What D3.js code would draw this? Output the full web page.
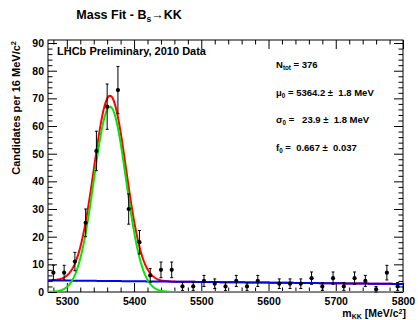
<!DOCTYPE html>
<html>
<head>
<meta charset="utf-8">
<script src="https://cdn.jsdelivr.net/npm/d3@7"></script>
<style>
body { margin: 0; background: #fff; }
text { font-family: "Liberation Sans", Arial, Helvetica, sans-serif; font-weight: bold; }
</style>
</head>
<body>
<script>
// histogram: 16 MeV bins from 5272 to 5800
var massBins = [5280, 5296, 5312, 5328, 5344, 5360, 5376, 5392, 5408, 5424, 5440,
                5456, 5472, 5488, 5504, 5520, 5536, 5552, 5568, 5584, 5600, 5616,
                5632, 5648, 5664, 5680, 5696, 5712, 5728, 5744, 5760, 5776, 5792];
var counts = [7, 7, 11, 25, 51, 67, 73, 30, 18, 6, 8,
              8, 2, 2, 4, 3, 2, 4, 2, 4, 0, 3,
              3, 3, 5, 2, 5, 2, 5, 4, 1, 7, 2];
var xTickVals = [5300, 5400, 5500, 5600, 5700, 5800];
var yTickVals = [0, 10, 20, 30, 40, 50, 60, 70, 80, 90];

// fit result (from the stat box)
var nTot = 376, mu0 = 5364.2, sigma0 = 23.9, f0 = 0.667;
var binW = 16;
// background line at both ends of the range
var bkgMass = [5272, 5800];
var bkgLevel = [4.2, 2.9];

var W = 418, H = 320;
var svg = d3.select("body").append("svg")
	.attr("width", W)
	.attr("height", H);

svg.append("rect").attr("width", W).attr("height", H).attr("fill", "#fff");

var x = d3.scaleLinear().domain([5272, 5800]).range([48, 403]);
var y = d3.scaleLinear().domain([0, 91.1]).range([292, 40]);
var bkg = d3.scaleLinear().domain(bkgMass).range(bkgLevel);

function sig(m) {
	var z = (m - mu0) / sigma0;
	return nTot * f0 * binW / (sigma0 * Math.sqrt(2 * Math.PI)) * Math.exp(-0.5 * z * z);
}

// axes, ticks pointing inwards on all four sides
var xMinor = d3.range(5280, 5801, 20).filter(function(d) { return d % 100 != 0; });
var yMinor = d3.range(2, 91, 2).filter(function(d) { return d % 10 != 0; });

function styleAxis(g) {
	g.select(".domain").remove();
	g.selectAll("line").attr("stroke", "#000");
	g.selectAll("text").attr("fill", "#000").attr("font-size", 10.5)
		.attr("font-family", null);
}

svg.append("g").attr("transform", "translate(0,292)")
	.call(d3.axisBottom(x).tickValues(xTickVals).tickSize(-9).tickPadding(5.5).tickFormat(d3.format("d")))
	.call(styleAxis);
svg.append("g").attr("transform", "translate(0,292)")
	.call(d3.axisBottom(x).tickValues(xMinor).tickSize(-4.5).tickFormat(""))
	.call(styleAxis);
svg.append("g").attr("transform", "translate(0,40)")
	.call(d3.axisTop(x).tickValues(xTickVals).tickSize(-9).tickFormat(""))
	.call(styleAxis);
svg.append("g").attr("transform", "translate(0,40)")
	.call(d3.axisTop(x).tickValues(xMinor).tickSize(-4.5).tickFormat(""))
	.call(styleAxis);

svg.append("g").attr("transform", "translate(48,0)")
	.call(d3.axisLeft(y).tickValues(yTickVals).tickSize(-9).tickPadding(4))
	.call(styleAxis);
svg.append("g").attr("transform", "translate(48,0)")
	.call(d3.axisLeft(y).tickValues(yMinor).tickSize(-4.5).tickFormat(""))
	.call(styleAxis);
svg.append("g").attr("transform", "translate(403,0)")
	.call(d3.axisRight(y).tickValues(yTickVals).tickSize(-9).tickFormat(""))
	.call(styleAxis);
svg.append("g").attr("transform", "translate(403,0)")
	.call(d3.axisRight(y).tickValues(yMinor).tickSize(-4.5).tickFormat(""))
	.call(styleAxis);

svg.append("rect")
	.attr("x", 48).attr("y", 40)
	.attr("width", 355).attr("height", 252)
	.attr("fill", "none").attr("stroke", "#000").attr("stroke-width", 1);

// fit curves
svg.append("clipPath").attr("id", "frame")
	.append("rect").attr("x", 48).attr("y", 40).attr("width", 355).attr("height", 252);

var grid = d3.range(5272, 5800.5, 1);
var line = d3.line().x(function(d) { return x(d[0]); }).y(function(d) { return y(d[1]); });

var curves = svg.append("g").attr("clip-path", "url(#frame)").attr("fill", "none").attr("stroke-width", 2);
curves.append("path")
	.attr("d", line(grid.map(function(m) { return [m, sig(m) + bkg(m)]; })))
	.attr("stroke", "#ff0000");
curves.append("path")
	.attr("d", line(grid.map(function(m) { return [m, bkg(m)]; })))
	.attr("stroke", "#0000ff");
curves.append("path")
	.attr("d", line(grid.map(function(m) { return [m, sig(m)]; })))
	.attr("stroke", "#00e600");

// data points with sqrt(N) errors
var pts = svg.append("g").selectAll("g")
	.data(massBins.map(function(m, i) { return { m: m, n: counts[i] }; })
		.filter(function(d) { return d.n > 0; }))
	.enter().append("g");

pts.append("line")
	.attr("x1", function(d) { return x(d.m); })
	.attr("x2", function(d) { return x(d.m); })
	.attr("y1", function(d) { return y(d.n - Math.sqrt(d.n)); })
	.attr("y2", function(d) { return y(d.n + Math.sqrt(d.n)); })
	.attr("stroke", "#000").attr("stroke-width", 1);
[-1, 1].forEach(function(s) {
	pts.append("line")
		.attr("x1", function(d) { return x(d.m) - 1.5; })
		.attr("x2", function(d) { return x(d.m) + 1.5; })
		.attr("y1", function(d) { return y(d.n + s * Math.sqrt(d.n)); })
		.attr("y2", function(d) { return y(d.n + s * Math.sqrt(d.n)); })
		.attr("stroke", "#000").attr("stroke-width", 1);
});
pts.append("circle")
	.attr("cx", function(d) { return x(d.m); })
	.attr("cy", function(d) { return y(d.n); })
	.attr("r", 2.1)
	.attr("fill", "#000");

// titles and labels
var title = svg.append("text").attr("x", 129).attr("y", 19)
	.attr("text-anchor", "middle").attr("font-size", 12.5);
title.append("tspan").text("Mass Fit - B");
title.append("tspan").attr("font-size", 8.5).attr("dy", 2.5).text("s");
title.append("tspan").attr("dy", -2.5).attr("font-weight", "normal").text("\u2192");
title.append("tspan").text("KK");

svg.append("text").attr("x", 57).attr("y", 55).attr("font-size", 11)
	.text("LHCb Preliminary, 2010 Data");

var yl = svg.append("text").attr("transform", "translate(19.5,41) rotate(-90)")
	.attr("text-anchor", "end").attr("font-size", 11);
yl.append("tspan").text("Candidates per 16 MeV/c");
yl.append("tspan").attr("font-size", 7.5).attr("dy", -4).text("2");

var xl = svg.append("text").attr("x", 406).attr("y", 317)
	.attr("text-anchor", "end").attr("font-size", 10.5);
xl.append("tspan").text("m");
xl.append("tspan").attr("font-size", 7).attr("dy", 1.5).text("KK");
xl.append("tspan").attr("dy", -1.5).text(" [MeV/c");
xl.append("tspan").attr("font-size", 7).attr("dy", -3).text("2");
xl.append("tspan").attr("dy", 3).text("]");

// stat box
var statSym = ["N", "\u03bc", "\u03c3", "f"];
var statSub = ["tot", "0", "0", "0"];
var statVal = [" = 376", " = 5364.2 \u00b1  1.8 MeV", " =   23.9 \u00b1  1.8 MeV", " =  0.667 \u00b1  0.037"];
var statY = [68.3, 95.8, 123.3, 150.8];

statSym.forEach(function(s, i) {
	var t = svg.append("text").attr("x", 276).attr("y", statY[i])
		.attr("font-size", 9.5).attr("xml:space", "preserve").style("white-space", "pre");
	t.append("tspan").text(s);
	t.append("tspan").attr("font-size", 6.3).attr("dy", 1.8).text(statSub[i]);
	t.append("tspan").attr("dy", -1.8).text(statVal[i]);
});
</script>
</body>
</html>
